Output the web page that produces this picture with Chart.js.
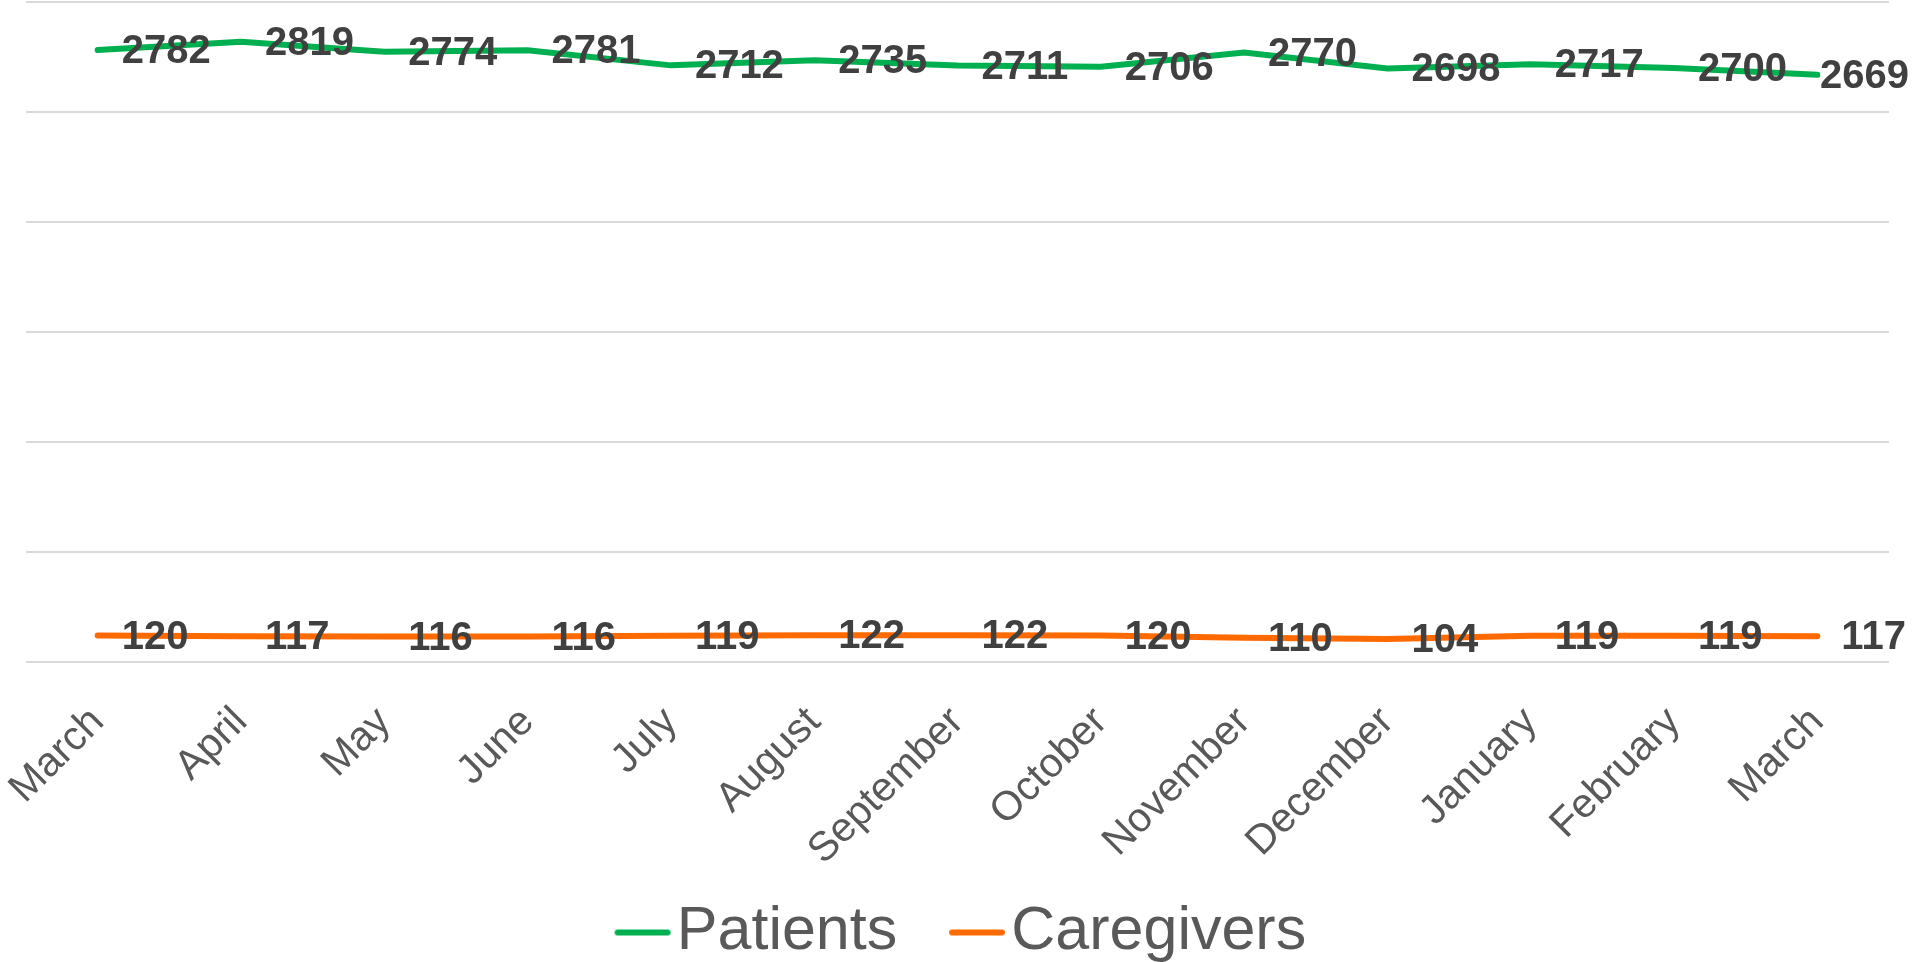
<!DOCTYPE html>
<html>
<head>
<meta charset="utf-8">
<script src="https://cdn.jsdelivr.net/npm/chart.js@4.4.1/dist/chart.umd.min.js"></script>
<style>
  html, body { margin: 0; padding: 0; background: #fff; overflow: hidden; }
  #wrap { width: 1913px; height: 973px; position: relative; }
</style>
</head>
<body>
<div id="wrap"><canvas id="chart"></canvas></div>
<script>
const months = ["March", "April", "May", "June", "July", "August", "September",
  "October", "November", "December", "January", "February", "March"];
const patients = [2782, 2819, 2774, 2781, 2712, 2735, 2711, 2706, 2770, 2698, 2717, 2700, 2669];
const caregivers = [120, 117, 116, 116, 119, 122, 122, 120, 110, 104, 119, 119, 117];

const GREEN = "#00b050";
const ORANGE = "#ff6a00";

// legend marker: short line sitting at the right of the legend box,
// so there's room before it and the text comes right after it
function legendLine(color) {
  const c = document.createElement("canvas");
  c.width = 114;
  c.height = 12;
  const g = c.getContext("2d");
  g.strokeStyle = color;
  g.lineWidth = 6;
  g.lineCap = "round";
  g.beginPath();
  g.moveTo(60, 6);
  g.lineTo(110, 6);
  g.stroke();
  return c;
}

// values written to the right of each point, like the spreadsheet labels
const valueLabels = {
  id: "valueLabels",
  afterDatasetsDraw(chart) {
    const ctx = chart.ctx;
    ctx.save();
    ctx.font = "bold 40px 'Liberation Sans', Arial, sans-serif";
    ctx.fillStyle = "#404040";
    ctx.textBaseline = "middle";
    ctx.textAlign = "left";
    chart.data.datasets.forEach((ds, i) => {
      const meta = chart.getDatasetMeta(i);
      meta.data.forEach((pt, j) => {
        const txt = String(ds.data[j]);
        const w = ctx.measureText(txt).width;
        let x = pt.x + 24;
        if (x + w > chart.width - 4) x = chart.width - 4 - w;
        ctx.fillText(txt, x, pt.y + 2);
      });
    });
    ctx.restore();
  }
};

new Chart(document.getElementById("chart"), {
  type: "line",
  data: {
    labels: months,
    datasets: [{
      label: "Patients",
      data: patients,
      borderColor: GREEN,
      backgroundColor: GREEN,
      borderWidth: 6,
      borderCapStyle: "round",
      pointRadius: 0,
      pointStyle: legendLine(GREEN),
      tension: 0
    }, {
      label: "Caregivers",
      data: caregivers,
      borderColor: ORANGE,
      backgroundColor: ORANGE,
      borderWidth: 6,
      borderCapStyle: "round",
      pointRadius: 0,
      pointStyle: legendLine(ORANGE),
      tension: 0
    }]
  },
  options: {
    responsive: true,
    maintainAspectRatio: false,
    animation: false,
    layout: { padding: { top: 2, left: 0, right: 24, bottom: 0 } },
    plugins: {
      tooltip: { enabled: false },
      legend: {
        position: "bottom",
        labels: {
          usePointStyle: true,
          pointStyleWidth: 63.5,
          padding: 20,
          color: "#595959",
          font: { family: "'Liberation Sans', Arial, sans-serif", size: 61 }
        }
      }
    },
    scales: {
      x: {
        offset: true,
        grid: { display: false },
        border: { display: false },
        ticks: {
          autoSkip: false,
          minRotation: 45,
          maxRotation: 45,
          padding: 28,
          color: "#595959",
          font: { family: "'Liberation Sans', Arial, sans-serif", size: 41 }
        },
        afterFit(scale) {
          scale.height = 220;
          scale.paddingLeft = 0;
          scale.paddingRight = 0;
        }
      },
      y: {
        min: 0,
        max: 3000,
        ticks: { display: false, stepSize: 500 },
        grid: { color: "#d9d9d9", lineWidth: 2, drawTicks: false },
        border: { display: false },
        afterFit(scale) { scale.width = 26; }
      }
    }
  },
  plugins: [valueLabels]
});
</script>
</body>
</html>
